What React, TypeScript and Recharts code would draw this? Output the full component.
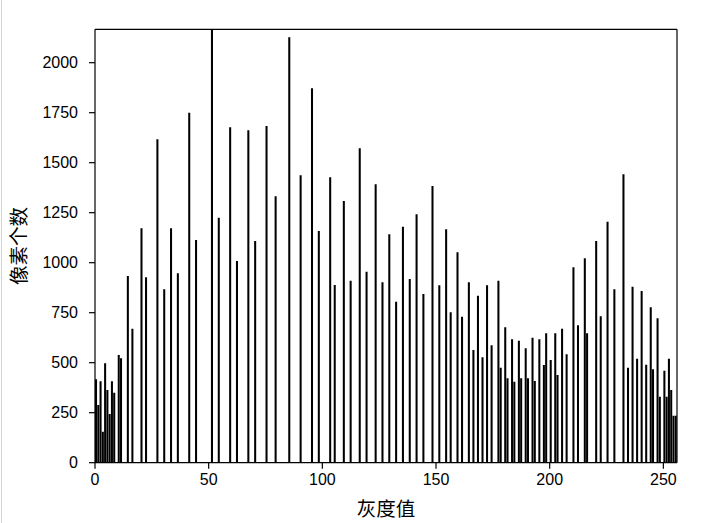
import React from 'react';
import { BarChart, Bar, XAxis, YAxis, Label, ReferenceLine } from 'recharts';

// gray level (bin start) of each non-empty histogram bin
const grayLevels = [
  0, 1, 2, 3, 4, 5, 6, 7, 8, 10, 11, 14, 16, 20, 22, 27, 30, 33, 36, 41, 44, 51, 54, 59, 62, 67, 70, 75, 79, 85,
  90, 95, 98, 103, 105, 109, 112, 116, 119, 123, 126, 129, 132, 135, 138, 141, 144, 148, 151, 154, 156, 159,
  161, 164, 166, 168, 170, 172, 174, 177, 178, 180, 181, 183, 184, 186, 187, 189, 190, 192, 193, 195, 197, 198,
  200, 202, 203, 205, 207, 210, 212, 215, 216, 220, 222, 225, 228, 232, 234, 236, 238, 240, 242, 244, 245, 247,
  248, 250, 251, 252, 253, 254, 255,
];

// pixel count of each bin
const pixelCounts = [
  417, 288, 407, 155, 497, 363, 243, 407, 350, 538, 522, 933, 670, 1172, 927, 1617, 867, 1172, 947, 1750, 1113,
  2167, 1225, 1677, 1008, 1662, 1108, 1683, 1332, 2127,
  1437, 1872, 1158, 1427, 888, 1308, 910, 1572, 955, 1392, 902, 1142, 805, 1180, 918, 1242, 843, 1383, 887, 1167,
  752, 1052,
  730, 902, 563, 835, 527, 887, 587, 910, 475, 677, 422, 617, 405, 610, 422, 572, 422, 625, 408, 617, 488, 647,
  513, 647, 438, 670, 542, 977, 687, 1022, 647, 1108, 732, 1205, 867, 1442, 475, 880, 520, 858, 490, 777, 467,
  722, 330, 460, 330, 520, 363, 235, 235,
];

const xTicks = [0, 50, 100, 150, 200, 250];
const yTicks = [0, 250, 500, 750, 1000, 1250, 1500, 1750, 2000];
const xLabel = '灰度值';
const yLabel = '像素个数';

const data = grayLevels.map((g, i) => ({ x: g + 0.5, count: pixelCounts[i] }));

const W = 706;
const H = 523;
const plotLeft = 95;
const plotRight = 677;
const plotTop = 29.3;
const plotBottom = 462.7;
const binWidth = (plotRight - plotLeft) / 256;
const xMax = 256;
const yMax = 2167;

const tickFont = { fill: '#000', fontSize: 16, fontFamily: '"Liberation Sans", Arial, sans-serif' };
const cjkFont = { fill: '#000', fontSize: 19.5, fontFamily: '"Noto Sans CJK SC", sans-serif' };

export default function App() {
  return (
    <div style={{ position: 'absolute', left: 0, top: 0, width: W, height: H, background: '#fff' }}>
      <div style={{ position: 'absolute', left: 1, top: 0, width: 1, height: H, background: '#d4d4d4' }} />
      <BarChart
        width={W}
        height={H}
        data={data}
        margin={{ top: plotTop, right: W - plotRight, bottom: 0, left: 0 }}
        barGap={0}
        barCategoryGap={0}
      >
        <XAxis
          type="number"
          dataKey="x"
          domain={[0, xMax]}
          allowDataOverflow
          ticks={xTicks}
          interval={0}
          height={H - plotBottom}
          tickSize={6}
          tickMargin={5}
          tick={tickFont}
          axisLine={{ stroke: '#000', strokeWidth: 1.2 }}
          tickLine={{ stroke: '#000', strokeWidth: 1.2 }}
        >
          <Label value={xLabel} position="insideBottom" offset={7} style={cjkFont} />
        </XAxis>
        <YAxis
          type="number"
          domain={[0, yMax]}
          allowDataOverflow
          ticks={yTicks}
          interval={0}
          width={plotLeft}
          tickSize={6}
          tickMargin={11}
          tick={tickFont}
          axisLine={{ stroke: '#000', strokeWidth: 1.2 }}
          tickLine={{ stroke: '#000', strokeWidth: 1.2 }}
        >
          <Label
            value={yLabel}
            angle={-90}
            position="insideLeft"
            offset={19}
            style={{ ...cjkFont, textAnchor: 'middle' }}
          />
        </YAxis>
        <Bar dataKey="count" fill="#000" barSize={binWidth * 1.1} isAnimationActive={false} />
        <ReferenceLine y={yMax} stroke="#000" strokeWidth={1.2} ifOverflow="visible" />
        <ReferenceLine x={xMax} stroke="#000" strokeWidth={1.2} ifOverflow="visible" />
      </BarChart>
    </div>
  );
}
